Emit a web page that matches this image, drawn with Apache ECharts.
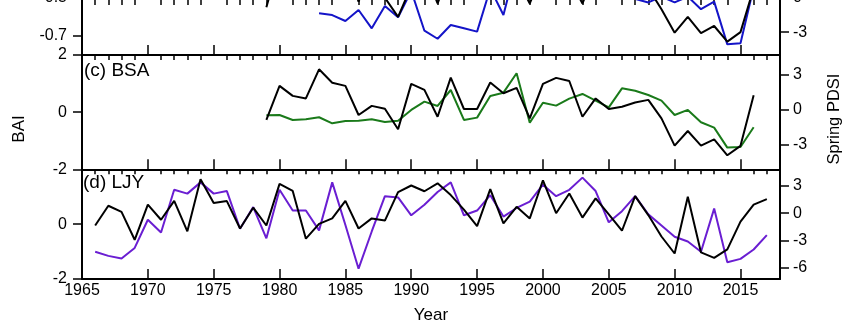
<!DOCTYPE html>
<html>
<head>
<meta charset="utf-8">
<script src="https://cdn.jsdelivr.net/npm/echarts@6/dist/echarts.min.js"></script>
<style>
html,body{margin:0;padding:0;background:#fff;}
#chart{width:850px;height:325px;}
</style>
</head>
<body>
<div id="chart"></div>
<script>
// ---- Data ----
const yearsB = [1979,1980,1981,1982,1983,1984,1985,1986,1987,1988,1989,1990,1991,1992,1993,1994,1995,1996,1997,1998,1999,2000,2001,2002,2003,2004,2005,2006,2007,2008,2009,2010,2011,2012,2013,2014,2015,2016];
const baiB = [-0.55,-0.30,-0.40,-0.36,-0.40,-0.35,-0.32,-0.52,-0.34,-0.50,-0.60,-0.44,-0.35,-0.53,-0.35,-0.36,-0.40,-0.38,-0.35,-0.40,-0.53,-0.36,-0.36,-0.40,-0.53,-0.36,-0.38,-0.42,-0.40,-0.45,-0.56,-0.683,-0.60,-0.686,-0.648,-0.73,-0.68,-0.45];
const pdsiYearsB = [1983,1984,1985,1986,1987,1988,1989,1990,1991,1992,1993,1994,1995,1996,1997,1998,1999,2000,2001,2002,2003,2004,2005,2006,2007,2008,2009,2010,2011,2012,2013,2014,2015,2016];
const pdsiB = [-1.36,-1.51,-2.03,-1.07,-2.67,-0.72,-1.71,0.6,-2.88,-3.58,-2.38,-2.67,-2.96,0.8,-1.51,3.0,2.0,1.5,2.5,1.0,2.0,1.5,1.0,1.2,-0.1,-0.41,0.1,-0.41,0.1,-1.0,-0.34,-4.07,-3.98,0.9];

const yearsC = [1979,1980,1981,1982,1983,1984,1985,1986,1987,1988,1989,1990,1991,1992,1993,1994,1995,1996,1997,1998,1999,2000,2001,2002,2003,2004,2005,2006,2007,2008,2009,2010,2011,2012,2013,2014,2015,2016];
const baiC = [-0.27,0.92,0.57,0.48,1.5,1.03,0.92,-0.1,0.22,0.12,-0.6,0.99,0.78,-0.16,1.21,0.11,0.11,1.04,0.66,0.85,-0.22,0.99,1.2,1.09,-0.16,0.48,0.11,0.19,0.34,0.43,-0.22,-1.17,-0.66,-1.17,-0.95,-1.51,-1.18,0.59];
const pdsiC = [-0.47,-0.44,-0.87,-0.81,-0.64,-1.16,-0.96,-0.93,-0.81,-1.04,-0.93,-0.01,0.7,0.33,1.7,-0.87,-0.67,1.19,1.47,3.13,-1.1,0.61,0.36,0.96,1.36,0.79,0.21,1.84,1.64,1.27,0.79,-0.44,-0.01,-1.07,-1.53,-3.24,-3.19,-1.5];

const yearsD = [1966,1967,1968,1969,1970,1971,1972,1973,1974,1975,1976,1977,1978,1979,1980,1981,1982,1983,1984,1985,1986,1987,1988,1989,1990,1991,1992,1993,1994,1995,1996,1997,1998,1999,2000,2001,2002,2003,2004,2005,2006,2007,2008,2009,2010,2011,2012,2013,2014,2015,2016,2017];
const baiD = [-0.05,0.67,0.45,-0.57,0.71,0.16,0.85,-0.26,1.64,0.77,0.84,-0.16,0.6,-0.05,1.47,1.21,-0.53,0.01,0.21,0.85,-0.16,0.21,0.13,1.17,1.41,1.2,1.49,1.06,0.53,-0.07,1.28,0.03,0.63,0.21,1.6,0.4,1.12,0.24,0.94,0.36,-0.24,1.02,0.33,-0.45,-1.07,1.0,-1.03,-1.23,-0.92,0.09,0.71,0.91];
const pdsiD = [-4.22,-4.67,-4.95,-3.8,-0.72,-2.12,2.56,2.14,3.37,2.14,2.42,-1.7,0.67,-2.75,2.56,0.29,0.29,-1.88,3.37,-1.3,-6.07,-2.0,1.86,1.72,-0.23,0.92,2.32,3.37,-0.23,0.29,1.97,-0.37,0.57,1.27,3.12,1.86,2.56,3.89,2.42,-1.0,0.22,1.86,-0.13,-1.35,-2.58,-3.1,-4.22,0.5,-5.37,-5.0,-3.97,-2.4];

const majorYears = [1965,1970,1975,1980,1985,1990,1995,2000,2005,2010,2015];
const minorYears = [1966,1967,1968,1969,1971,1972,1973,1974,1976,1977,1978,1979,1981,1982,1983,1984,1986,1987,1988,1989,1991,1992,1993,1994,1996,1997,1998,1999,2001,2002,2003,2004,2006,2007,2008,2009,2011,2012,2013,2014,2016,2017];

const leftTicksB = [-0.7];
const rightTicksB = [-3];
const leftTicksC = [-2,0,2];
const rightTicksC = [-3,0,3];
const leftTicksD = [-2,0];
const rightTicksD = [-6,-3,0,3];

// ---- Chart ----
const FONT = 'Liberation Sans, Arial, sans-serif';
const zip = (xs, ys) => xs.map((x, i) => [x, ys[i]]);
const chart = echarts.init(document.getElementById('chart'), null, {renderer: 'canvas'});

const grids = [
  {left: 82, right: 70, top: 0, height: 55},
  {left: 82, right: 70, top: 55, height: 114.3},
  {left: 82, right: 70, top: 169.3, height: 114.7}
];

const xAxes = [];
grids.forEach((g, gi) => {
  xAxes.push({
    type: 'value', gridIndex: gi, min: 1965, max: 2018,
    axisLine: {show: true, onZero: false, lineStyle: {color: '#000', width: 2}},
    axisTick: {show: true, inside: true, length: 10, customValues: majorYears, lineStyle: {color: '#000', width: 1.5}},
    axisLabel: {show: gi === 2, customValues: majorYears, color: '#000', fontFamily: FONT, fontSize: 16, margin: 4,
      formatter: v => String(Math.round(v))},
    splitLine: {show: false},
    name: gi === 2 ? 'Year' : '', nameLocation: 'middle', nameGap: 28,
    nameTextStyle: {color: '#000', fontFamily: FONT, fontSize: 17}
  });
  xAxes.push({
    type: 'value', gridIndex: gi, min: 1965, max: 2018,
    axisLine: {show: false, onZero: false},
    axisTick: {show: true, inside: true, length: 5, customValues: minorYears, lineStyle: {color: '#000', width: 1.5}},
    axisLabel: {show: false},
    splitLine: {show: false}
  });
});

function yAx(gi, pos, min, max, ticks, dec) {
  return {
    type: 'value', gridIndex: gi, position: pos, min: min, max: max,
    axisLine: {show: true, onZero: false, lineStyle: {color: '#000', width: 2}},
    axisTick: {show: true, inside: false, length: 9, customValues: ticks, lineStyle: {color: '#000', width: 1.5}},
    axisLabel: {show: true, customValues: ticks, color: '#000', fontFamily: FONT, fontSize: 16, margin: pos === 'left' ? 15 : 13,
      formatter: v => dec ? v.toFixed(1) : String(Math.round(v))},
    splitLine: {show: false}
  };
}
const yAxes = [
  yAx(0, 'left', -0.8, -0.8 + 55 / 190.8, leftTicksB, true),
  yAx(0, 'right', -5, -5 + 55 / 11.45, rightTicksB, false),
  yAx(1, 'left', -2, 2, leftTicksC, false),
  yAx(1, 'right', -5.1, 4.7, rightTicksC, false),
  yAx(2, 'left', -2, 2, leftTicksD, false),
  yAx(2, 'right', -7.2, 4.8, rightTicksD, false)
];

function line(data, xi, yi, color) {
  return {type: 'line', xAxisIndex: xi, yAxisIndex: yi, data: data, symbol: 'none',
    lineStyle: {color: color, width: 2}, itemStyle: {color: color}, clip: true, animation: false, z: color === '#000000' ? 3 : 2};
}

const option = {
  backgroundColor: '#ffffff',
  animation: false,
  grid: grids,
  xAxis: xAxes,
  yAxis: yAxes,
  series: [
    line(zip(pdsiYearsB, pdsiB), 0, 1, '#1414c8'),
    line(zip(yearsB, baiB), 0, 0, '#000000'),
    line(zip(yearsC, pdsiC), 2, 3, '#1a7a1a'),
    line(zip(yearsC, baiC), 2, 2, '#000000'),
    line(zip(yearsD, pdsiD), 4, 5, '#6a1ed2'),
    line(zip(yearsD, baiD), 4, 4, '#000000')
  ],
  graphic: [
    // partially visible tick labels of the cropped top panel
    {type: 'text', x: 67, y: -2.2, style: {text: '-0.5', font: '16px ' + FONT, fill: '#000', align: 'right', verticalAlign: 'middle'}},
    {type: 'line', shape: {x1: 73, y1: -2.2, x2: 82, y2: -2.2}, style: {stroke: '#000', lineWidth: 1.5}},
    {type: 'text', x: 793, y: -2.2, style: {text: '0', font: '16px ' + FONT, fill: '#000', align: 'left', verticalAlign: 'middle'}},
    {type: 'text', left: 84, top: 61, style: {text: '(c) BSA', font: '19px ' + FONT, fill: '#000'}},
    {type: 'text', left: 83, top: 173, style: {text: '(d) LJY', font: '19px ' + FONT, fill: '#000'}},
    {type: 'text', x: 19, y: 129, rotation: Math.PI / 2, style: {text: 'BAI', font: '17px ' + FONT, fill: '#000', align: 'center', verticalAlign: 'middle'}},
    {type: 'text', x: 834, y: 119, rotation: Math.PI / 2, style: {text: 'Spring PDSI', font: '16.5px ' + FONT, fill: '#000', align: 'center', verticalAlign: 'middle'}}
  ]
};
chart.setOption(option);
</script>
</body>
</html>
